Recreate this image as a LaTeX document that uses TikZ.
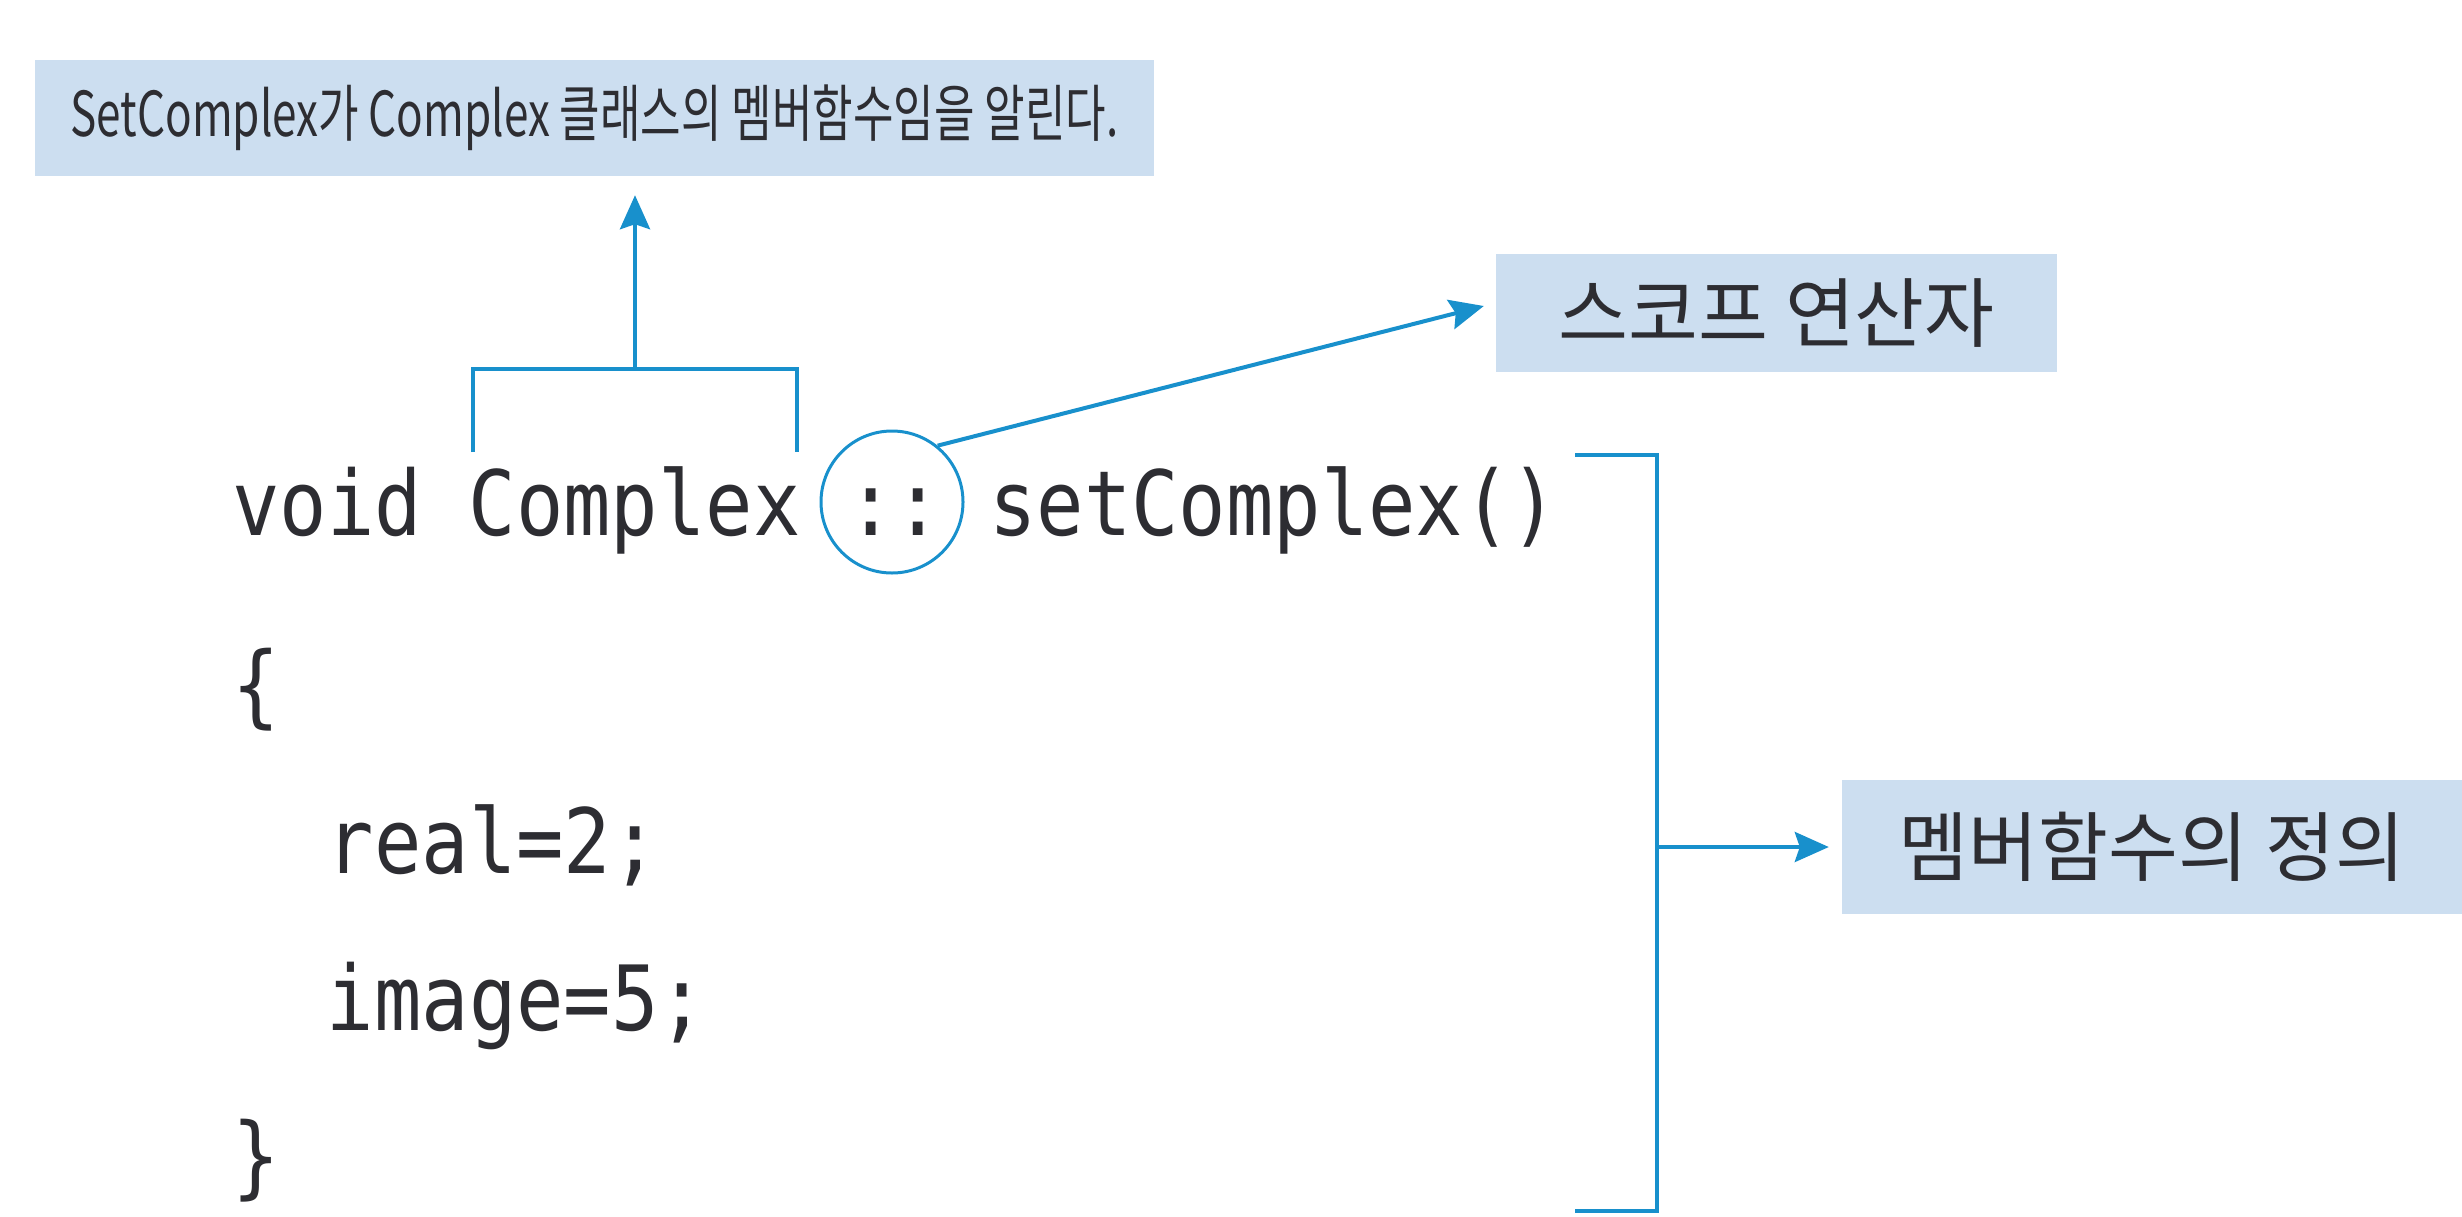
\documentclass[tikz,border=0pt]{standalone}
\usepackage{fontspec}
\newfontfamily\kfont{Noto Sans CJK KR}
\newfontfamily\kfontnarrow[FakeStretch=0.71]{Noto Sans CJK KR}
\newfontfamily\codefont[FakeStretch=0.875]{DejaVu Sans Mono}
\usetikzlibrary{arrows.meta,calc,shapes.geometric}
\definecolor{boxfill}{RGB}{204,222,240}
\definecolor{lineblue}{RGB}{24,144,204}
\definecolor{txt}{RGB}{45,45,50}
\begin{document}
\begin{tikzpicture}[x=1pt,y=-1pt,
  lbl/.style={fill=boxfill, text=txt, inner sep=0pt, anchor=center},
  code/.style={text=txt, inner sep=0pt, anchor=base west, font=\codefont\fontsize{90}{90}\selectfont},
  conn/.style={draw=lineblue, line width=4pt},
  arr/.style={conn, -{Stealth[length=34pt,width=30pt,inset=5pt]}}]
\useasboundingbox (0,0) rectangle (2462,1216);

% label boxes
\node[lbl, minimum width=1119pt, minimum height=116pt, font=\kfontnarrow\fontsize{62}{62}\selectfont] (top) at (594.5,118)
  {SetComplex가 Complex 클래스의 멤버함수임을 알린다.};
\node[lbl, minimum width=561pt, minimum height=118pt, font=\kfont\fontsize{76}{76}\selectfont] (scope) at (1776.5,313)
  {스코프 연산자};
\node[lbl, minimum width=620pt, minimum height=134pt, font=\kfont\fontsize{76}{76}\selectfont] (member) at (2152,847)
  {멤버함수의 정의};

% code
\node[code] (void) at (232,535) {void};
\node[code] (cplx) at (468.5,535) {Complex};
\node[code] (colon) at (847,535) {::};
\node[code] (setc) at (989,535) {setComplex()};
\node[code] (lb) at (232,716) {\{};
\node[code] (real) at (326.6,873) {real=2;};
\node[code] (img) at (326.6,1030) {image=5;};
\node[code] (rb) at (232,1187) {\}};

% circle around ::
\node[circle, draw=lineblue, line width=3pt, minimum size=142pt, inner sep=0pt] (sc) at (892,502) {};

% bracket over Complex
\coordinate (b1) at (473,452);
\coordinate (b2) at (473,369);
\coordinate (brk) at (635,369);
\coordinate (b3) at (797,369);
\coordinate (b4) at (797,452);
\draw[conn] (b1) -- (b2) -- (b3) -- (b4);
\draw[arr, shorten >=19pt] (brk) -- (brk |- top.south);

% scope arrow
\draw[arr] (sc.51) -- ($(scope.west)+(-12,-7)$);

% right bracket
\coordinate (r1) at (1575,455);
\coordinate (r2) at (1657,455);
\coordinate (r3) at (1657,1211);
\coordinate (r4) at (1575,1211);
\coordinate (rm) at (1657,847);
\draw[conn] (r1) -- (r2) -- (r3) -- (r4);
\draw[arr, shorten >=13pt] (rm) -- (member.west);
\end{tikzpicture}
\end{document}
